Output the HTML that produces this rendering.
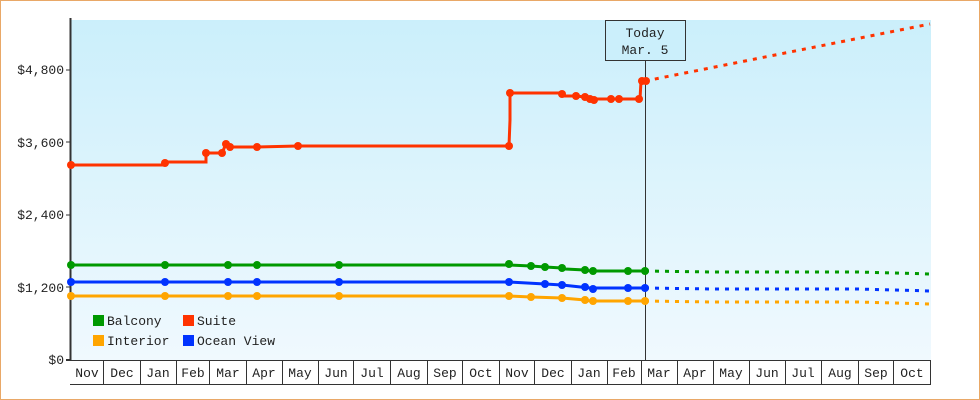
<!DOCTYPE html>
<html><head><style>
html,body{margin:0;padding:0;background:#fff}
svg{display:block}
text{font-family:"Liberation Mono","DejaVu Sans Mono",monospace;font-size:13px;fill:#222}
</style></head><body>
<svg width="980" height="400" viewBox="0 0 980 400">
<defs><linearGradient id="g" x1="0" y1="0" x2="0" y2="1"><stop offset="0" stop-color="#cbeffb"/><stop offset="1" stop-color="#f0f9fe"/></linearGradient></defs>
<rect x="0.5" y="0.5" width="979" height="399" fill="#fff" stroke="#e9a867"/>
<rect x="71" y="20" width="860" height="340" fill="url(#g)"/>
<g stroke="#333" stroke-width="1">
<line x1="70.5" y1="18" x2="70.5" y2="361" stroke-width="2"/>
<line x1="66" y1="360" x2="71" y2="360" stroke-width="2"/>
<line x1="66" y1="287" x2="71" y2="287"/><line x1="66" y1="215" x2="71" y2="215"/>
<line x1="66" y1="142" x2="71" y2="142"/><line x1="66" y1="70" x2="71" y2="70"/>
<line x1="70" y1="360.5" x2="931" y2="360.5"/><line x1="70" y1="384.5" x2="931" y2="384.5"/>
</g>
<g stroke="#333">
<line x1="103.5" y1="360" x2="103.5" y2="385"/><line x1="140.5" y1="360" x2="140.5" y2="385"/><line x1="176.5" y1="360" x2="176.5" y2="385"/><line x1="209.5" y1="360" x2="209.5" y2="385"/><line x1="246.5" y1="360" x2="246.5" y2="385"/><line x1="282.5" y1="360" x2="282.5" y2="385"/><line x1="318.5" y1="360" x2="318.5" y2="385"/><line x1="353.5" y1="360" x2="353.5" y2="385"/><line x1="390.5" y1="360" x2="390.5" y2="385"/><line x1="427.5" y1="360" x2="427.5" y2="385"/><line x1="462.5" y1="360" x2="462.5" y2="385"/><line x1="499.5" y1="360" x2="499.5" y2="385"/><line x1="534.5" y1="360" x2="534.5" y2="385"/><line x1="571.5" y1="360" x2="571.5" y2="385"/><line x1="607.5" y1="360" x2="607.5" y2="385"/><line x1="641.5" y1="360" x2="641.5" y2="385"/><line x1="677.5" y1="360" x2="677.5" y2="385"/><line x1="713.5" y1="360" x2="713.5" y2="385"/><line x1="749.5" y1="360" x2="749.5" y2="385"/><line x1="785.5" y1="360" x2="785.5" y2="385"/><line x1="821.5" y1="360" x2="821.5" y2="385"/><line x1="858.5" y1="360" x2="858.5" y2="385"/><line x1="893.5" y1="360" x2="893.5" y2="385"/><line x1="930.5" y1="360" x2="930.5" y2="385"/>
</g>
<g text-anchor="middle">
<text x="87" y="377">Nov</text><text x="122" y="377">Dec</text><text x="158" y="377">Jan</text><text x="193" y="377">Feb</text><text x="228" y="377">Mar</text><text x="264" y="377">Apr</text><text x="300" y="377">May</text><text x="336" y="377">Jun</text><text x="372" y="377">Jul</text><text x="409" y="377">Aug</text><text x="445" y="377">Sep</text><text x="481" y="377">Oct</text><text x="517" y="377">Nov</text><text x="553" y="377">Dec</text><text x="589" y="377">Jan</text><text x="624" y="377">Feb</text><text x="659" y="377">Mar</text><text x="695" y="377">Apr</text><text x="731" y="377">May</text><text x="767" y="377">Jun</text><text x="803" y="377">Jul</text><text x="840" y="377">Aug</text><text x="876" y="377">Sep</text><text x="912" y="377">Oct</text>
</g>
<g text-anchor="end">
<text x="64" y="364">$0</text><text x="64" y="292">$1,200</text><text x="64" y="219">$2,400</text><text x="64" y="147">$3,600</text><text x="64" y="74">$4,800</text>
</g>
<line x1="645.5" y1="60" x2="645.5" y2="360" stroke="#333"/>
<rect x="605.5" y="20.5" width="80" height="40" fill="#cbeffb" stroke="#333"/>
<text x="645" y="37" text-anchor="middle">Today</text><text x="645" y="54" text-anchor="middle">Mar. 5</text>
<g fill="none" stroke-width="3">
<polyline stroke="#ff3300" points="71,165 165,165 165,162 206,162 206,153 222,153 226,144 230,147 257,147 298,146 509,146 510,120 510,93 562,93 562,96 576,96 585,97 590,99 640,99 641,81 645,81"/>
<polyline stroke="#ff3300" stroke-dasharray="4,6" points="645,81 930,24"/>
<polyline stroke="#009900" points="71,265 509,265 531,266 545,267 562,268 565,269 585,270 590,271 645,271"/>
<polyline stroke="#009900" stroke-dasharray="4,6" points="645,271 713,272 858,272 931,274"/>
<polyline stroke="#0033ff" points="71,282 509,282 545,284 562,285 590,288 645,288"/>
<polyline stroke="#0033ff" stroke-dasharray="4,6" points="645,288 713,289 858,289 931,291"/>
<polyline stroke="#ffa500" points="71,296 509,296 531,297 562,298 585,300 590,301 645,301"/>
<polyline stroke="#ffa500" stroke-dasharray="4,6" points="645,301 713,302 858,302 931,304"/>
</g>
<g fill="#ff3300">
<circle cx="71" cy="165" r="4"/><circle cx="165" cy="163" r="4"/><circle cx="206" cy="153" r="4"/><circle cx="222" cy="153" r="4"/><circle cx="226" cy="144" r="4"/><circle cx="230" cy="147" r="4"/><circle cx="257" cy="147" r="4"/><circle cx="298" cy="146" r="4"/><circle cx="509" cy="146" r="4"/><circle cx="510" cy="93" r="4"/><circle cx="562" cy="94" r="4"/><circle cx="576" cy="96" r="4"/><circle cx="585" cy="97" r="4"/><circle cx="590" cy="99" r="4"/><circle cx="594" cy="100" r="4"/><circle cx="611" cy="99" r="4"/><circle cx="619" cy="99" r="4"/><circle cx="639" cy="99" r="4"/><circle cx="642" cy="81" r="4"/><circle cx="646" cy="81" r="4"/>
</g>
<g fill="#009900">
<circle cx="71" cy="265" r="4"/><circle cx="165" cy="265" r="4"/><circle cx="228" cy="265" r="4"/><circle cx="257" cy="265" r="4"/><circle cx="339" cy="265" r="4"/><circle cx="509" cy="264" r="4"/><circle cx="531" cy="266" r="4"/><circle cx="545" cy="267" r="4"/><circle cx="562" cy="268" r="4"/><circle cx="585" cy="270" r="4"/><circle cx="593" cy="271" r="4"/><circle cx="628" cy="271" r="4"/><circle cx="645" cy="271" r="4"/>
</g>
<g fill="#0033ff">
<circle cx="71" cy="282" r="4"/><circle cx="165" cy="282" r="4"/><circle cx="228" cy="282" r="4"/><circle cx="257" cy="282" r="4"/><circle cx="339" cy="282" r="4"/><circle cx="509" cy="282" r="4"/><circle cx="545" cy="284" r="4"/><circle cx="562" cy="285" r="4"/><circle cx="585" cy="287" r="4"/><circle cx="593" cy="289" r="4"/><circle cx="628" cy="288" r="4"/><circle cx="645" cy="288" r="4"/>
</g>
<g fill="#ffa500">
<circle cx="71" cy="296" r="4"/><circle cx="165" cy="296" r="4"/><circle cx="228" cy="296" r="4"/><circle cx="257" cy="296" r="4"/><circle cx="339" cy="296" r="4"/><circle cx="509" cy="296" r="4"/><circle cx="531" cy="297" r="4"/><circle cx="562" cy="298" r="4"/><circle cx="585" cy="300" r="4"/><circle cx="593" cy="301" r="4"/><circle cx="628" cy="301" r="4"/><circle cx="645" cy="301" r="4"/>
</g>
<rect x="93" y="315" width="11" height="11" fill="#009900"/><text x="107" y="325">Balcony</text>
<rect x="183" y="315" width="11" height="11" fill="#ff3300"/><text x="197" y="325">Suite</text>
<rect x="93" y="335" width="11" height="11" fill="#ffa500"/><text x="107" y="345">Interior</text>
<rect x="183" y="335" width="11" height="11" fill="#0033ff"/><text x="197" y="345">Ocean View</text>
</svg>
</body></html>
